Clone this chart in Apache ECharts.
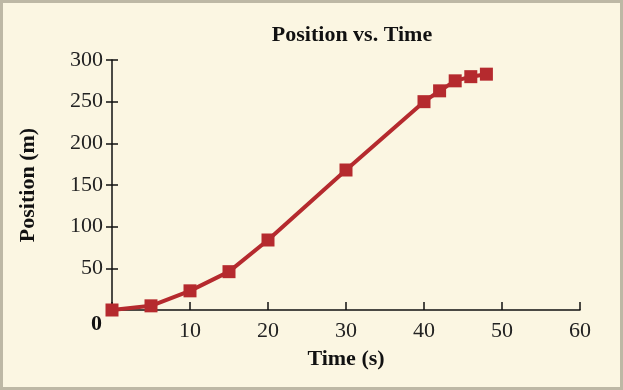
<!DOCTYPE html>
<html>
<head>
<meta charset="utf-8">
<script src="https://cdn.jsdelivr.net/npm/echarts@6/dist/echarts.min.js"></script>
<style>
html,body{margin:0;padding:0;background:#fbf6e2;}
#c{width:623px;height:390px;box-sizing:border-box;border:3px solid #bdb8a5;}
</style>
</head>
<body>
<div id="c"></div>
<script>
var timeS = [0, 5, 10, 15, 20, 30, 40, 42, 44, 46, 48];
var positionM = [0, 5, 23, 46, 84, 168, 250, 263, 275, 280, 283];
var xTicks = [10, 20, 30, 40, 50, 60];
var yTicks = [50, 100, 150, 200, 250, 300];

var serif = '"Liberation Serif","DejaVu Serif",serif';
var chart = echarts.init(document.getElementById('c'), null, {renderer:'canvas'});
var data = timeS.map(function(t,i){return [t, positionM[i]];});
chart.setOption({
  backgroundColor: '#fbf6e2',
  animation: false,
  title: {
    text: 'Position vs. Time',
    left: 344, top: 16, textAlign: 'center',
    textStyle: {fontFamily: serif, fontWeight: 'bold', fontSize: 22, color: '#111'}
  },
  grid: {left: 109, right: 40, top: 57, bottom: 77},
  xAxis: {
    type: 'value', min: 0, max: 60, interval: 10,
    name: 'Time (s)', nameLocation: 'middle', nameGap: 38,
    nameTextStyle: {fontFamily: serif, fontWeight: 'bold', fontSize: 22, color: '#111'},
    axisLine: {lineStyle: {color: '#111', width: 1.5}},
    axisTick: {inside: true, length: 8, lineStyle: {color: '#111', width: 1.5}},
    axisLabel: {
      fontFamily: serif, fontSize: 22, color: '#222', margin: 10,
      formatter: function(v){ return xTicks.indexOf(v) >= 0 ? String(v) : ''; }
    },
    splitLine: {show: false}
  },
  yAxis: [{
    type: 'value', min: 0, max: 300, interval: 50,
    name: 'Position (m)', nameLocation: 'middle', nameGap: 73,
    nameTextStyle: {fontFamily: serif, fontWeight: 'bold', fontSize: 22, color: '#111'},
    axisLine: {show: true, lineStyle: {color: '#111', width: 1.5}},
    axisTick: {show: true, length: 6, lineStyle: {color: '#111', width: 1.5},
      interval: function(i, v){ return yTicks.indexOf(Number(v)) >= 0; }},
    axisLabel: {
      fontFamily: serif, fontSize: 22, color: '#222', margin: 9,
      formatter: function(v){ return yTicks.indexOf(v) >= 0 ? String(v) : ''; }
    },
    splitLine: {show: false}
  }, {
    type: 'value', min: 0, max: 300, interval: 50, position: 'left',
    axisLine: {show: false},
    axisTick: {show: true, inside: true, length: 6, lineStyle: {color: '#111', width: 1.5}},
    axisLabel: {show: false},
    splitLine: {show: false}
  }],
  graphic: [{
    type: 'text', left: 88, top: 310,
    style: {text: '0', fontFamily: serif, fontWeight: 'bold', fontSize: 22, fill: '#111'}
  }],
  series: [{
    type: 'line', data: data, yAxisIndex: 0,
    symbol: 'rect', symbolSize: 13,
    lineStyle: {color: '#b52a2e', width: 4},
    itemStyle: {color: '#b52a2e'},
    z: 5
  }]
});
</script>
</body>
</html>
